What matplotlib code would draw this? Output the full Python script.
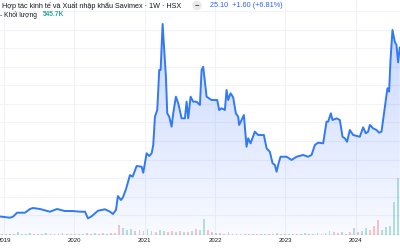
import numpy as np
import matplotlib
matplotlib.use("Agg")
import matplotlib.pyplot as plt

# ---------------- data ----------------
years = [
    2018.943, 2019.085, 2019.128, 2019.185, 2019.298, 2019.369, 2019.412, 2019.511, 2019.653, 2019.753,
    2019.866, 2019.980, 2020.080, 2020.151, 2020.193, 2020.250, 2020.335, 2020.435, 2020.506, 2020.548,
    2020.591, 2020.619, 2020.662, 2020.690, 2020.733, 2020.790, 2020.828, 2020.885, 2020.956, 2020.979,
    2021.027, 2021.064, 2021.098, 2021.121, 2021.145, 2021.178, 2021.206, 2021.226, 2021.254, 2021.277,
    2021.301, 2021.320, 2021.348, 2021.382, 2021.405, 2021.443, 2021.476, 2021.524, 2021.571, 2021.595,
    2021.618, 2021.652, 2021.689, 2021.737, 2021.784, 2021.808, 2021.831, 2021.879, 2021.950, 2021.997,
    2022.030, 2022.058, 2022.092, 2022.139, 2022.163, 2022.186, 2022.220, 2022.257, 2022.295, 2022.328,
    2022.342, 2022.376, 2022.409, 2022.447, 2022.470, 2022.504, 2022.565, 2022.612, 2022.693, 2022.732,
    2022.778, 2022.817, 2022.849, 2022.874, 2022.896, 2022.930, 2023.016, 2023.087, 2023.158, 2023.251,
    2023.322, 2023.371, 2023.418, 2023.464, 2023.536, 2023.584, 2023.607, 2023.645, 2023.669, 2023.726,
    2023.773, 2023.811, 2023.844, 2023.876, 2023.915, 2023.962, 2024.057, 2024.104, 2024.142, 2024.175,
    2024.199, 2024.246, 2024.294, 2024.331, 2024.365, 2024.388, 2024.436, 2024.450, 2024.473, 2024.493,
    2024.521, 2024.554, 2024.578, 2024.601, 2024.625,
]
prices = [
    6.84, 6.71, 6.82, 7.25, 7.25, 7.65, 7.76, 7.65, 7.36, 7.65,
    7.43, 7.43, 7.36, 7.36, 6.64, 6.89, 7.46, 7.62, 7.36, 7.11,
    7.54, 9.05, 8.62, 8.91, 9.78, 11.32, 11.14, 12.30, 12.22, 11.57,
    13.67, 13.38, 13.67, 14.57, 17.63, 18.35, 22.68, 22.68, 27.65, 24.84,
    21.95, 17.99, 17.63, 16.55, 17.99, 19.79, 19.08, 17.45, 17.45, 19.25,
    17.45, 19.79, 19.25, 19.25, 18.89, 22.68, 23.03, 19.79, 19.43, 19.43,
    19.43, 18.35, 18.54, 18.35, 20.51, 19.43, 20.16, 19.72, 17.99, 17.63,
    16.73, 17.27, 17.81, 14.38, 15.29, 14.75, 16.01, 15.65, 15.65, 14.21,
    13.84, 12.59, 12.41, 11.68, 12.41, 13.30, 13.30, 12.95, 13.30, 13.49,
    13.30, 13.49, 14.57, 14.82, 14.75, 17.09, 17.09, 17.99, 17.27, 17.45,
    17.27, 15.46, 15.29, 14.92, 16.19, 15.65, 15.46, 16.48, 15.83, 16.01,
    16.73, 16.37, 16.19, 15.90, 16.01, 17.27, 19.97, 20.70, 20.33, 23.76,
    27.00, 25.74, 25.38, 23.50, 25.10,
]

# volume (thousand shares), one bar every 3 weeks, with up(G)/down(R) flags
vol_start = 2018.97
vol_step_weeks = 3
volumes_k = [
    75, 50, 75, 50, 150, 50, 75, 100, 50, 75,
    50, 100, 50, 75, 50, 100, 50, 75, 50, 75,
    50, 100, 75, 100, 75, 100, 75, 100, 100, 500,
    350, 250, 300, 200, 250, 200, 300, 200, 150, 250,
    200, 150, 200, 150, 200, 150, 150, 200, 300, 250,
    800, 250, 150, 100, 100, 75, 150, 75, 75, 50,
    75, 50, 75, 50, 75, 50, 75, 50, 100, 50,
    75, 50, 75, 50, 75, 100, 75, 50, 100, 75,
    100, 200, 150, 100, 150, 75, 150, 350, 150, 200,
    350, 250, 450, 750, 250, 400, 450, 1650, 2850, 900,
]
vol_dir = ("GRGGGRGGRR" "GGRGRGRRGR" "GRGGGRGRRR" "GGGRGRGGRG"
           "GRRGRGRGRG" "GRRGRRGRRG" "RRGRRGRRGR" "GGGRGGGRGR"
           "GGRRGRRGRG" "GRRRGGGGGR")

tick_years = [2019, 2020, 2021, 2022, 2023, 2024]
tick_labels = ["2019", "2020", "2021", "2022", "2023", "2024"]
grid_prices = [5, 7, 9, 11, 13, 15, 17, 19, 21, 23, 25, 27, 29]

title = "Hợp tác kinh tế và Xuất nhập khẩu Savimex · 1W · HSX"
quote = "25.10  +1.60 (+6.81%)"
vol_label = "- Khối lượng"
vol_value = "545.7K"

# ---------------- figure ----------------
W, H = 400, 250
fig = plt.figure(figsize=(4, 2.5), dpi=100)
fig.patch.set_facecolor("white")
plt.rcParams["font.family"] = ["Liberation Sans", "DejaVu Sans"]

rect = [0, 15 / H, 1, 1 - 15 / H]
ax = fig.add_axes(rect)
ax.set_facecolor("white")
xlim = (2018.943, 2024.628)
ylim = (4.84, 30.24)
ax.set_xlim(*xlim)
ax.set_ylim(*ylim)

for gp in grid_prices:
    ax.axhline(gp, color="#f0f3fa", lw=0.8, zorder=0)
for ty in tick_years:
    ax.axvline(ty, color="#f0f3fa", lw=0.8, zorder=0)

x = np.array(years)
y = np.array(prices)
poly = ax.fill_between(x, y, ylim[0], color="none", lw=0)
# vertical gradient
n = 256
grad = np.zeros((n, 2, 4))
base = np.array([41, 98, 255]) / 255.0
alphas = np.linspace(0.26, 0.03, n)  # top -> bottom
grad[:, :, :3] = base
grad[:, :, 3] = alphas[:, None]
top_y = max(prices)
im = ax.imshow(grad, extent=(xlim[0], xlim[1], ylim[0], top_y), origin="upper",
               aspect="auto", zorder=1, interpolation="bilinear")
im.set_clip_path(poly.get_paths()[0], transform=ax.transData)
ax.plot(x, y, color="#3179f5", lw=1.4, zorder=3, solid_joinstyle="round")

ax.set_xticks(tick_years)
ax.set_xticklabels(tick_labels)
ax.tick_params(axis="x", length=0, pad=2.5, labelsize=4.3, labelcolor="#131722")
ax.set_yticks([])
for s in ax.spines.values():
    s.set_visible(False)

# volume axis
axv = fig.add_axes(rect, sharex=ax)
axv.patch.set_alpha(0)
axv.set_ylim(0, 11750)
vx = vol_start + np.arange(len(volumes_k)) * vol_step_weeks / 52.18
cols = ["#26a69a" if d == "G" else "#ef5350" for d in vol_dir]
axv.bar(vx, volumes_k, width=0.026, color=cols, alpha=0.33, lw=0)
axv.set_yticks([])
axv.tick_params(axis="x", length=0, labelbottom=False)
for s in axv.spines.values():
    s.set_visible(False)

# header
fig.text(2 / W, 1 - 5.5 / H, title, fontsize=5.2, color="#131722", va="center", ha="left")
fig.text(197 / W, 1 - 5.5 / H, "−", fontsize=5.5, color="#131722", va="center", ha="center",
         bbox=dict(boxstyle="circle,pad=0.15", fc="#e8e8ec", ec="none"))
fig.text(210 / W, 1 - 5.5 / H, quote, fontsize=5.2, color="#2962ff", va="center", ha="left")
fig.text(0 / W, 1 - 15 / H, vol_label, fontsize=4.8, color="#131722", va="center", ha="left")
fig.text(43 / W, 1 - 15 / H, vol_value, fontsize=4.8, color="#26a69a", va="center", ha="left",
         fontweight="bold")

fig.savefig("out.png", dpi=100, facecolor="white")
